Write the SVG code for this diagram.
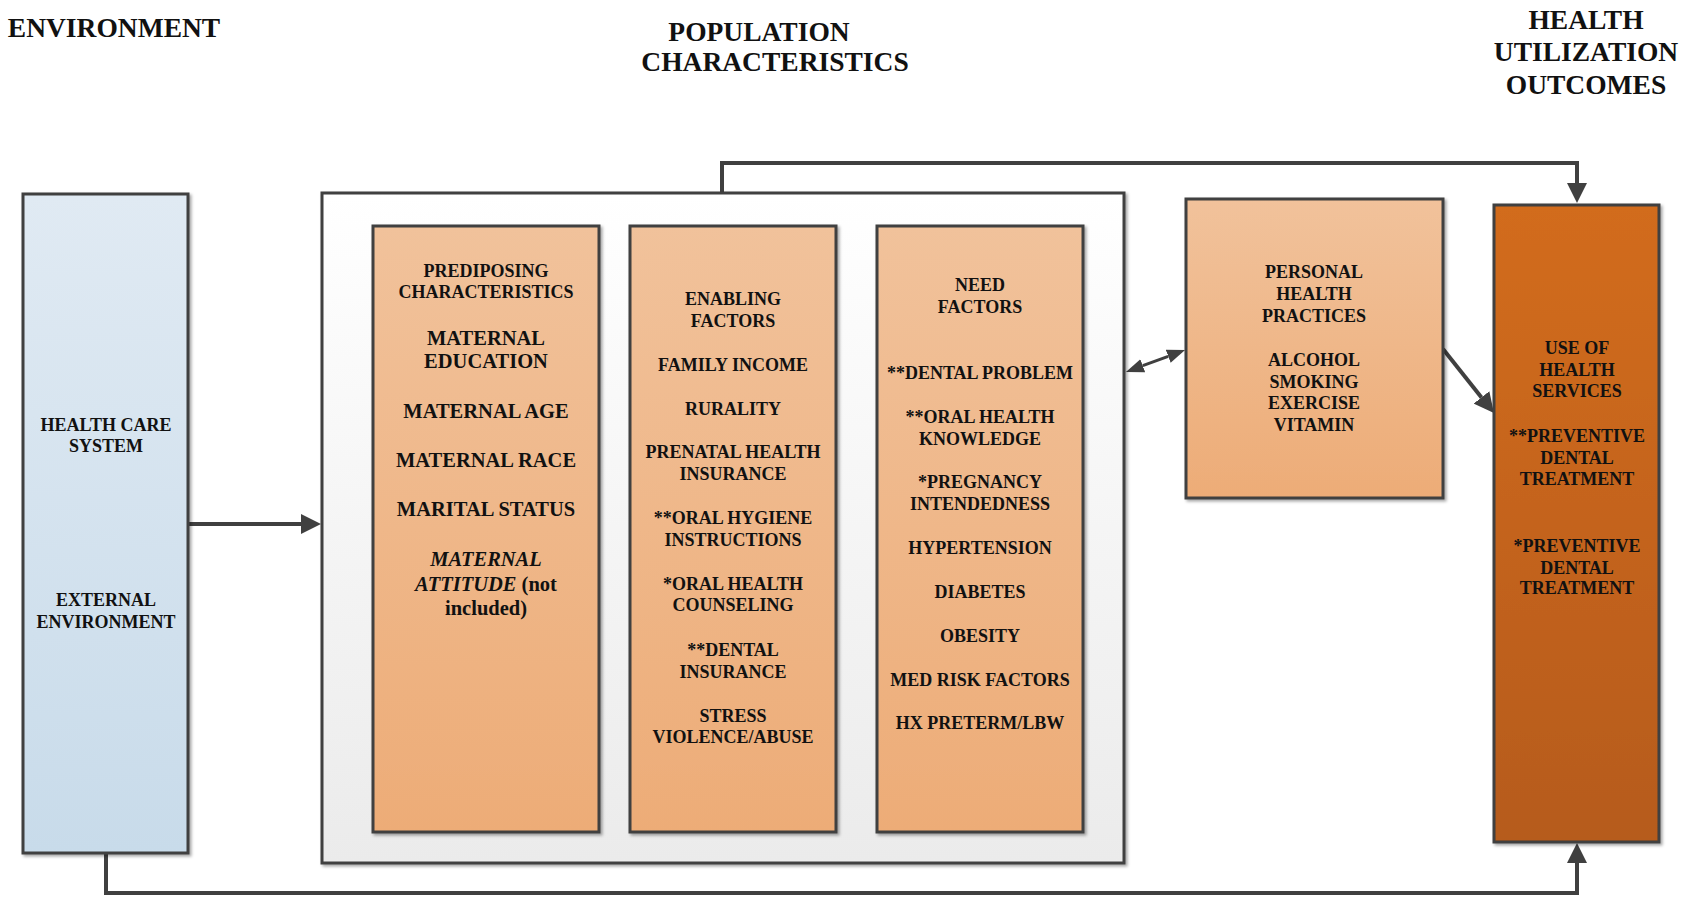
<svg xmlns="http://www.w3.org/2000/svg" width="1692" height="898" viewBox="0 0 1692 898">
<style>
  text { font-family: "Liberation Serif", "Times New Roman", serif; font-weight: bold; fill: #111; text-anchor: middle; }
  .title { font-size: 27.5px; }
  .t18 { font-size: 18px; }
  .t20 { font-size: 20.5px; }
  .it { font-style: italic; }
  .box { stroke: #3f3f3f; stroke-width: 3; }
  .conn { fill: none; stroke: #404040; stroke-width: 4; }
  .thin { stroke-width: 3; }
</style>
<defs>
  <linearGradient id="gBlue" x1="0" y1="0" x2="0" y2="1">
    <stop offset="0" stop-color="#e0eaf3"/>
    <stop offset="1" stop-color="#c8dbea"/>
  </linearGradient>
  <linearGradient id="gOuter" x1="0" y1="0" x2="0" y2="1">
    <stop offset="0" stop-color="#ffffff"/>
    <stop offset="1" stop-color="#ebebeb"/>
  </linearGradient>
  <linearGradient id="gOrange" x1="0" y1="0" x2="0" y2="1">
    <stop offset="0" stop-color="#f1c29b"/>
    <stop offset="1" stop-color="#edac77"/>
  </linearGradient>
  <linearGradient id="gDark" x1="0" y1="0" x2="0" y2="1">
    <stop offset="0" stop-color="#d26c1f"/>
    <stop offset="1" stop-color="#b65b1b"/>
  </linearGradient>
  <filter id="shadow" x="-5%" y="-5%" width="115%" height="115%">
    <feDropShadow dx="2" dy="2" stdDeviation="1.5" flood-color="#000" flood-opacity="0.35"/>
  </filter>
  <marker id="arr" markerUnits="userSpaceOnUse" viewBox="0 0 20 20" markerWidth="20" markerHeight="20" refX="0" refY="10" orient="auto">
    <path d="M0,0 L20,10 L0,20 z" fill="#404040"/>
  </marker>
  <marker id="arrS" markerUnits="userSpaceOnUse" viewBox="0 0 18 14" markerWidth="18" markerHeight="14" refX="0" refY="7" orient="auto-start-reverse">
    <path d="M0,0 L18,7 L0,14 z" fill="#404040"/>
  </marker>
</defs>

<g id="titles">
  <text class="title" x="114" y="37">ENVIRONMENT</text>
  <text class="title" x="759" y="41">POPULATION</text>
  <text class="title" x="775" y="71">CHARACTERISTICS</text>
  <text class="title" x="1586" y="29">HEALTH</text>
  <text class="title" x="1586" y="61">UTILIZATION</text>
  <text class="title" x="1586" y="94">OUTCOMES</text>
</g>

<g id="connectors">
  <path class="conn" d="M188,524 H301" marker-end="url(#arr)"/>
  <path class="conn" d="M722,193 V163 H1577 V183" marker-end="url(#arr)"/>
  <path class="conn" d="M106,853 V893 H1577 V863" marker-end="url(#arr)"/>
  <path class="conn thin" d="M1142.8,365.7 L1168.2,356.3" marker-start="url(#arrS)" marker-end="url(#arrS)"/>
  <path class="conn" d="M1443,349 L1481.5,397.4" marker-end="url(#arr)"/>
</g>

<g id="environment">
  <rect class="box" x="23" y="194" width="165" height="659" fill="url(#gBlue)" filter="url(#shadow)"/>
  <text class="t18" x="106" y="431">HEALTH CARE</text>
  <text class="t18" x="106" y="452">SYSTEM</text>
  <text class="t18" x="106" y="606">EXTERNAL</text>
  <text class="t18" x="106" y="628">ENVIRONMENT</text>
</g>

<g id="population">
  <rect class="box" x="322" y="193" width="802" height="670" fill="url(#gOuter)" filter="url(#shadow)"/>
</g>

<g id="predisposing">
  <rect class="box" x="373" y="226" width="226" height="606" fill="url(#gOrange)" filter="url(#shadow)"/>
  <text class="t18" x="486" y="277">PREDIPOSING</text>
  <text class="t18" x="486" y="298">CHARACTERISTICS</text>
  <text class="t20" x="486" y="345">MATERNAL</text>
  <text class="t20" x="486" y="368">EDUCATION</text>
  <text class="t20" x="486" y="418">MATERNAL AGE</text>
  <text class="t20" x="486" y="467">MATERNAL RACE</text>
  <text class="t20" x="486" y="516">MARITAL STATUS</text>
  <text class="t20 it" x="486" y="566">MATERNAL</text>
  <text class="t20" x="486" y="591"><tspan class="it">ATTITUDE</tspan> (not</text>
  <text class="t20" x="486" y="615">included)</text>
</g>

<g id="enabling">
  <rect class="box" x="630" y="226" width="206" height="606" fill="url(#gOrange)" filter="url(#shadow)"/>
  <text class="t18" x="733" y="305">ENABLING</text>
  <text class="t18" x="733" y="327">FACTORS</text>
  <text class="t18" x="733" y="371">FAMILY INCOME</text>
  <text class="t18" x="733" y="415">RURALITY</text>
  <text class="t18" x="733" y="458">PRENATAL HEALTH</text>
  <text class="t18" x="733" y="480">INSURANCE</text>
  <text class="t18" x="733" y="524">**ORAL HYGIENE</text>
  <text class="t18" x="733" y="546">INSTRUCTIONS</text>
  <text class="t18" x="733" y="590">*ORAL HEALTH</text>
  <text class="t18" x="733" y="611">COUNSELING</text>
  <text class="t18" x="733" y="656">**DENTAL</text>
  <text class="t18" x="733" y="678">INSURANCE</text>
  <text class="t18" x="733" y="722">STRESS</text>
  <text class="t18" x="733" y="743">VIOLENCE/ABUSE</text>
</g>

<g id="need">
  <rect class="box" x="877" y="226" width="206" height="606" fill="url(#gOrange)" filter="url(#shadow)"/>
  <text class="t18" x="980" y="291">NEED</text>
  <text class="t18" x="980" y="313">FACTORS</text>
  <text class="t18" x="980" y="379">**DENTAL PROBLEM</text>
  <text class="t18" x="980" y="423">**ORAL HEALTH</text>
  <text class="t18" x="980" y="445">KNOWLEDGE</text>
  <text class="t18" x="980" y="488">*PREGNANCY</text>
  <text class="t18" x="980" y="510">INTENDEDNESS</text>
  <text class="t18" x="980" y="554">HYPERTENSION</text>
  <text class="t18" x="980" y="598">DIABETES</text>
  <text class="t18" x="980" y="642">OBESITY</text>
  <text class="t18" x="980" y="686">MED RISK FACTORS</text>
  <text class="t18" x="980" y="729">HX PRETERM/LBW</text>
</g>

<g id="personal">
  <rect class="box" x="1186" y="199" width="257" height="299" fill="url(#gOrange)" filter="url(#shadow)"/>
  <text class="t18" x="1314" y="278">PERSONAL</text>
  <text class="t18" x="1314" y="300">HEALTH</text>
  <text class="t18" x="1314" y="322">PRACTICES</text>
  <text class="t18" x="1314" y="366">ALCOHOL</text>
  <text class="t18" x="1314" y="388">SMOKING</text>
  <text class="t18" x="1314" y="409">EXERCISE</text>
  <text class="t18" x="1314" y="431">VITAMIN</text>
</g>

<g id="outcomes">
  <rect class="box" x="1494" y="205" width="165" height="637" fill="url(#gDark)" filter="url(#shadow)"/>
  <text class="t18" x="1577" y="354">USE OF</text>
  <text class="t18" x="1577" y="376">HEALTH</text>
  <text class="t18" x="1577" y="397">SERVICES</text>
  <text class="t18" x="1577" y="442">**PREVENTIVE</text>
  <text class="t18" x="1577" y="464">DENTAL</text>
  <text class="t18" x="1577" y="485">TREATMENT</text>
  <text class="t18" x="1577" y="552">*PREVENTIVE</text>
  <text class="t18" x="1577" y="574">DENTAL</text>
  <text class="t18" x="1577" y="594">TREATMENT</text>
</g>
</svg>
